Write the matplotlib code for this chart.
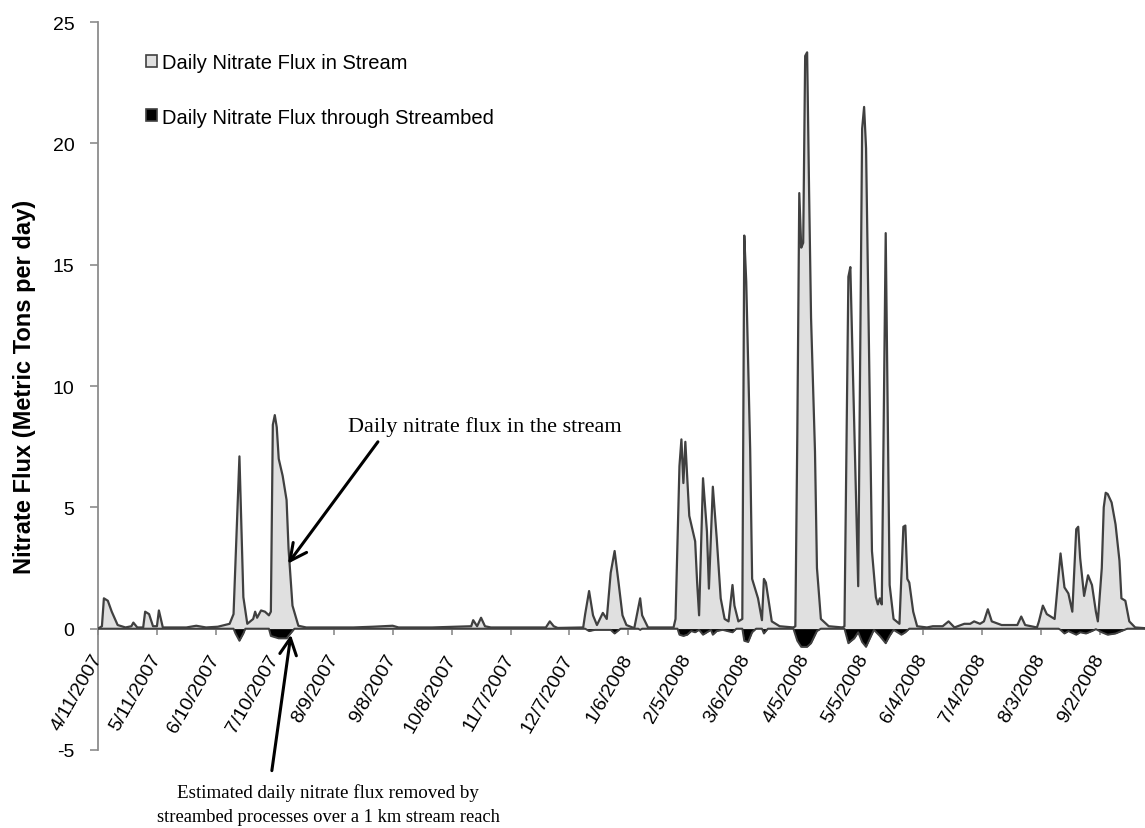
import numpy as np
import matplotlib
matplotlib.use("Agg")
import matplotlib.pyplot as plt
from matplotlib.patches import Patch
import datetime as dt

# ---------------- data (days since 4/11/2007) ----------------
start_date = dt.date(2007, 4, 11)

stream_days = [0, 2, 3, 5, 7, 10, 14, 17, 18, 20, 23, 24, 26, 28, 30, 31, 33, 45, 50, 55,
               61, 67, 69, 72, 74, 76, 79, 80, 81, 83, 85, 87, 88, 89, 90, 91, 92, 94, 96, 97,
               99, 102, 106, 130, 140, 150, 153, 170, 190, 191, 193, 195, 197, 200, 228, 230, 232, 234,
               247, 248, 250, 252, 254, 257, 259, 261, 263, 265, 267, 269, 273, 276, 277, 280,
               293, 294, 296, 297, 298, 299, 301, 304, 305, 306, 308, 310, 311, 313, 315, 317, 319,
               321, 323, 324, 326, 328, 329, 330, 332, 333, 336, 338, 339, 340, 343, 347, 354,
               355, 356, 357, 358, 359, 360, 361, 362, 363, 365, 366, 368, 372, 379,
               380, 382, 383, 387, 389, 390, 391, 394, 396, 397, 398, 399, 401, 403, 405, 408,
               410, 411, 412, 413, 415, 417, 422, 425, 430, 433, 436, 441, 444, 446, 449, 451,
               453, 455, 460, 468, 470, 472, 478, 479, 481, 483, 485, 487, 490, 492, 494, 496,
               498, 499, 500, 502, 504, 506, 508, 509, 511, 512, 513, 514, 516, 518, 520, 521,
               523, 525, 528, 533]
stream_flux = [0.0, 0.1, 1.25, 1.15, 0.7, 0.15, 0.05, 0.1, 0.25, 0.05, 0.05, 0.7, 0.6, 0.1, 0.1, 0.75, 0.05, 0.05, 0.12, 0.05,
               0.08, 0.2, 0.6, 7.1, 1.3, 0.2, 0.4, 0.7, 0.45, 0.75, 0.7, 0.55, 0.7, 8.4, 8.8, 8.3, 7.0, 6.3, 5.3, 3.3,
               0.95, 0.12, 0.05, 0.05, 0.08, 0.12, 0.05, 0.05, 0.1, 0.35, 0.1, 0.45, 0.1, 0.05, 0.05, 0.3, 0.1, 0.03,
               0.05, 0.6, 1.55, 0.55, 0.15, 0.65, 0.4, 2.3, 3.2, 1.9, 0.55, 0.15, 0.02, 1.25, 0.55, 0.05,
               0.05, 0.4, 6.7, 7.8, 6.0, 7.7, 4.65, 3.6, 1.9, 0.55, 6.2, 4.0, 1.65, 5.85, 3.7, 1.25, 0.4,
               0.3, 1.8, 0.95, 0.3, 0.4, 16.2, 14.3, 7.4, 2.05, 1.25, 0.35, 2.05, 1.9, 0.3, 0.1, 0.05,
               0.1, 8.0, 17.95, 15.7, 15.9, 23.6, 23.75, 18.0, 12.8, 7.3, 2.5, 0.4, 0.1, 0.05,
               0.1, 14.5, 14.9, 1.75, 20.6, 21.5, 19.8, 3.2, 1.3, 1.0, 1.25, 1.0, 16.3, 1.8, 0.4, 0.2,
               4.2, 4.25, 2.05, 1.9, 0.7, 0.1, 0.05, 0.1, 0.1, 0.3, 0.05, 0.2, 0.2, 0.3, 0.2, 0.3,
               0.8, 0.3, 0.15, 0.15, 0.5, 0.15, 0.05, 0.3, 0.95, 0.6, 0.5, 0.4, 3.1, 1.7, 1.45, 0.7,
               4.1, 4.2, 2.9, 1.35, 2.2, 1.8, 0.7, 0.3, 2.5, 5.0, 5.6, 5.55, 5.2, 4.3, 2.8, 1.25,
               1.15, 0.3, 0.05, 0.02]

bed_days = [0, 69, 70, 72, 74, 75, 87, 88, 90, 92, 96, 98, 100, 248, 250, 253, 261, 263, 266,
            275, 276, 277, 295, 296, 298, 300, 302, 304, 306, 308, 310, 312, 313, 315, 318, 323, 325,
            328, 329, 331, 333, 335, 338, 339, 341, 354, 356, 358, 361, 363, 366, 368,
            380, 382, 385, 387, 389, 391, 393, 395, 398, 401, 403, 405, 409, 411, 413,
            489, 490, 492, 494, 498, 500, 503, 506, 508, 511, 514, 518, 521, 524, 533]
bed_flux = [0.0, 0.0, -0.2, -0.5, -0.2, 0.0, 0.0, -0.3, -0.35, -0.4, -0.4, -0.2, 0.0, 0.0, -0.1, -0.05, -0.05, -0.2, 0.0,
            0.0, -0.05, 0.0, 0.0, -0.25, -0.3, -0.25, -0.1, -0.15, -0.05, -0.25, -0.15, -0.05, -0.25, -0.1, -0.05, -0.15, 0.0,
            0.0, -0.5, -0.55, -0.15, 0.0, 0.0, -0.2, 0.0, 0.0, -0.5, -0.75, -0.75, -0.6, -0.1, 0.0,
            0.0, -0.6, -0.4, -0.15, -0.55, -0.75, -0.4, -0.05, -0.3, -0.6, -0.3, -0.05, -0.25, -0.15, 0.0,
            0.0, -0.05, -0.2, -0.1, -0.25, -0.15, -0.2, -0.1, -0.02, -0.15, -0.25, -0.2, -0.1, 0.0, 0.0]

tick_days = list(range(0, 511, 30))
y_ticks = [-5, 0, 5, 10, 15, 20, 25]

# ---------------- plotting ----------------
plt.rcParams['font.family'] = ['Liberation Sans', 'DejaVu Sans']

fig = plt.figure(figsize=(11.45, 8.29), dpi=100)
ax = fig.add_axes([98 / 1145, (829 - 751) / 829, 1047 / 1145, 728 / 829])

# spines first (set_position resets ticks)
for s in ['top', 'right']:
    ax.spines[s].set_visible(False)
ax.spines['bottom'].set_position(('data', 0))
for s in ['left', 'bottom']:
    ax.spines[s].set_color('#8c8c8c')
    ax.spines[s].set_linewidth(1.3)
    ax.spines[s].set_zorder(1)

ax.fill_between(stream_days, stream_flux, 0, color='#e0e0e0', lw=0, zorder=2)
ax.plot(stream_days, stream_flux, color='#404040', lw=1.6, zorder=3)
ax.fill_between(bed_days, bed_flux, 0, color='black', lw=0, zorder=2)
ax.plot(bed_days, bed_flux, color='#404040', lw=1.4, zorder=3)

ax.set_xlim(0, 533)
ax.set_ylim(-5, 25)
ax.set_yticks(y_ticks)
ax.set_yticklabels([str(v) for v in y_ticks], fontsize=14)

tick_dates = [start_date + dt.timedelta(days=d) for d in tick_days]
ax.set_xticks(tick_days)
ax.set_xticklabels([f"{d.month}/{d.day}/{d.year}" for d in tick_dates], fontsize=14,
                   rotation=60, ha='right', va='center', rotation_mode='anchor')

ax.tick_params(axis='y', direction='out', length=6, width=1.2, color='#8c8c8c', pad=11)
ax.tick_params(axis='x', direction='out', length=4, width=1.2, color='#8c8c8c', pad=15)

ax.set_ylabel('Nitrate Flux (Metric Tons per day)', fontsize=17, fontweight='bold', labelpad=12)

handles = [Patch(facecolor='#e0e0e0', edgecolor='#404040', lw=1.2),
           Patch(facecolor='black', edgecolor='#404040', lw=1.2)]
ax.legend(handles, ['Daily Nitrate Flux in Stream', 'Daily Nitrate Flux through Streambed'],
          loc='upper left', bbox_to_anchor=(0.046, 0.957), frameon=False, fontsize=14.5,
          handlelength=0.55, handleheight=0.55, handletextpad=0.25, labelspacing=1.75,
          borderaxespad=0, borderpad=0)

serif = ['Liberation Serif', 'DejaVu Serif']
ax.text(197, 8.35, 'Daily nitrate flux in the stream',
        fontsize=16, family=serif, ha='center', va='center')
ax.annotate('', xy=(96.7, 2.68), xytext=(142.5, 7.7),
            arrowprops=dict(arrowstyle='->', lw=2.2, color='black', mutation_scale=30,
                            shrinkA=0, shrinkB=0), zorder=5)
ax.annotate('', xy=(98.2, -0.25), xytext=(88.5, -5.85),
            arrowprops=dict(arrowstyle='->', lw=2.2, color='black', mutation_scale=30,
                            shrinkA=0, shrinkB=0), annotation_clip=False, zorder=5)
fig.text(328 / 1145, 1 - 793 / 829, 'Estimated daily nitrate flux removed by',
         fontsize=13.7, family=serif, ha='center', va='center')
fig.text(328 / 1145, 1 - 818 / 829, 'streambed processes over a 1 km stream reach',
         fontsize=13.3, family=serif, ha='center', va='center')

fig.savefig('out.png', dpi=100)
